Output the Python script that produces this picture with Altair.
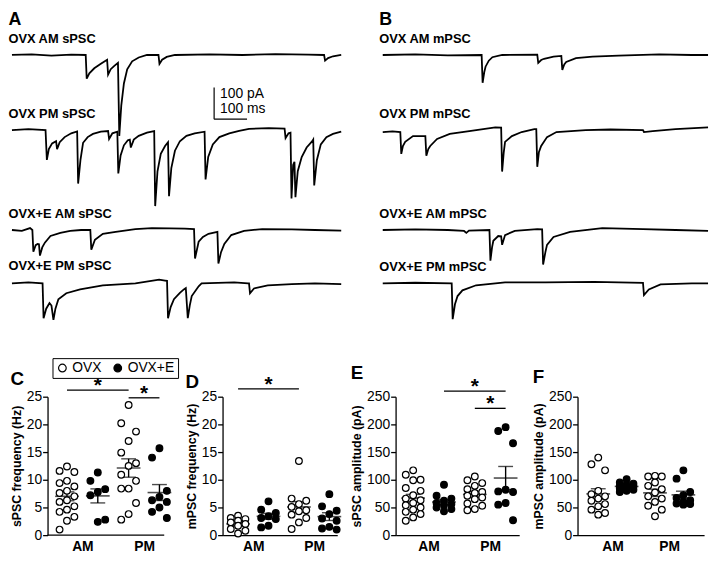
import json
import altair as alt
import pandas as pd

FONT = "Liberation Sans"
PX_PER_PA = 0.32   # vertical trace scale (100 pA = 32 px)
TOP_PA = 20

# ---------------- Panel A: sPSC traces (t in ms, current in pA) ----------------
a1_t = [0, 60, 120, 180, 224, 227, 235, 250, 270, 289, 292, 300, 310, 322, 326, 332, 340, 350, 365, 385,
        410, 445, 448, 456, 470, 495, 600, 700, 800, 900, 948, 951, 960, 975, 1000]
a1_i = [0, 2, -2, 1, 0, -75, -58, -42, -28, -15, -62, -45, -35, -25, -256, -160, -90, -45, -20, -8,
        0, 0, -28, -15, -6, 0, 2, 0, 3, 1, 0, -18, -10, -4, 0]

a2_t = [0, 50, 102, 106, 112, 122, 134, 137, 145, 160, 180, 198, 201, 208, 216, 230, 246, 270, 292, 295,
        305, 320, 323, 330, 340, 352, 358, 361, 370, 385, 410, 432, 435, 442, 452, 465, 474, 477, 484, 495,
        510, 530, 555, 585, 588, 596, 610, 630, 660, 690, 720, 780, 828, 831, 840, 846, 849, 854, 858, 861,
        868, 880, 895, 912, 915, 918, 926, 938, 955, 975, 1000]
a2_i = [0, 3, 0, -94, -60, -42, -35, -60, -38, -22, -10, -4, -169, -95, -40, -22, -12, -5, -3, -28,
        -10, -5, -137, -80, -48, -32, -30, -55, -30, -18, -8, -3, -240, -130, -75, -50, -38, -209, -120, -65,
        -35, -18, -10, -5, -156, -85, -45, -22, -10, -2, 4, 6, 5, -25, -10, -8, -216, -110, -100, -212,
        -130, -85, -55, -35, -30, -175, -95, -45, -22, -12, -5]

a3_t = [0, 30, 55, 62, 65, 72, 78, 82, 85, 92, 100, 117, 147, 177, 210, 238, 241, 252, 276, 315,
        375, 425, 480, 525, 553, 556, 567, 580, 597, 624, 627, 635, 645, 666, 705, 760, 850, 920, 1000]
a3_i = [0, -3, 6, 0, -69, -48, -44, -45, -81, -55, -40, -19, -9, -3, 0, 0, -62, -31, -12, -6,
        3, 6, 5, 4, 3, -90, -37, -22, -12, -6, -106, -70, -44, -16, -3, 3, 2, 0, -2]

a4_t = [0, 50, 93, 96, 104, 114, 120, 126, 132, 141, 165, 207, 276, 375, 447, 465, 471, 474, 482, 492,
        510, 522, 528, 534, 540, 546, 567, 576, 675, 717, 720, 723, 735, 777, 850, 920, 1000]
a4_i = [0, 3, 0, -110, -80, -62, -70, -115, -80, -50, -31, -19, -6, 0, 12, 9, 8, -110, -75, -50,
        -30, -19, -15, -110, -70, -40, -9, 0, 3, 0, 0, -31, -16, -6, -2, 0, -2]

# ---------------- Panel B: mPSC traces ----------------
b1_t = [0, 100, 200, 304, 307, 312, 316, 326, 337, 367, 475, 478, 487, 496, 525, 549, 552, 558, 564, 594,
        645, 725, 850, 950, 1000]
b1_i = [0, 2, -1, 0, -88, -55, -37, -18, -7, 0, 1, -25, -16, -12, -5, -3, -47, -30, -22, -10,
        -5, -2, 2, 0, 0]

b2_t = [0, 30, 54, 57, 62, 69, 93, 131, 134, 140, 146, 167, 206, 266, 346, 364, 367, 372, 376, 397,
        427, 466, 472, 475, 480, 487, 505, 534, 624, 700, 800, 803, 830, 900, 1000]
b2_i = [-6, -4, -6, -75, -50, -37, -19, -19, -81, -60, -50, -28, -12, -3, 9, 8, -131, -70, -37, -19,
        -6, 3, 3, -116, -70, -50, -22, -6, 0, 2, 0, -6, -3, 3, 9]

b3_t = [0, 100, 200, 250, 257, 265, 328, 331, 336, 340, 355, 364, 367, 376, 406, 475, 490, 493, 500, 505,
        525, 576, 675, 800, 900, 1000]
b3_i = [0, 2, 0, -3, -9, -2, 0, -97, -55, -34, -19, -20, -47, -16, -3, 3, 2, -109, -70, -47,
        -22, -6, 6, 3, 0, -3]

b4_t = [0, 100, 212, 215, 222, 230, 245, 287, 376, 500, 650, 800, 803, 818, 854, 950, 1000]
b4_i = [0, 2, 0, -113, -66, -40, -22, -6, 3, 3, 5, 2, -37, -19, -3, 0, 0]

# scale bar (100 pA / 100 ms)
bar_t = [614, 714]
bar_pA = [-103, -203]

# ---------------- Panels C-F: scatter data ----------------
conds = ["AM OVX", "AM OVX+E", "PM OVX", "PM OVX+E"]
groups = ["OVX", "OVX+E"]

c_vals = [
    [12.4, 11.6, 11.4, 9.8, 9.4, 8.8, 8.0, 7.6, 7.0, 6.3, 6.0, 5.2, 4.6, 4.2, 3.3, 2.6, 1.0],
    [11.3, 9.8, 8.3, 7.8, 7.2, 2.8, 2.4],
    [23.5, 20.2, 18.7, 17.0, 14.9, 13.0, 12.5, 10.9, 9.8, 8.4, 8.4, 5.8, 3.8, 2.8],
    [15.7, 14.0, 8.0, 6.9, 6.3, 6.0, 5.0, 4.2, 3.1],
]
d_vals = [
    [3.5, 3.1, 2.9, 2.6, 2.3, 2.0, 1.7, 1.1, 0.8, 0.3],
    [6.1, 4.6, 4.0, 3.4, 3.1, 2.9, 1.7, 1.4],
    [13.4, 6.6, 6.2, 5.6, 5.1, 4.5, 4.3, 3.7, 3.1, 2.3, 1.1],
    [7.4, 5.2, 4.4, 3.8, 3.0, 2.6, 1.5, 1.2, 1.0],
]
e_vals = [
    [117, 109, 100, 99, 85, 80, 72, 66, 63, 58, 54, 50, 46, 42, 38, 32, 26],
    [91, 71, 66, 62, 58, 56, 54, 50, 47, 43],
    [106, 99, 94, 89, 83, 78, 76, 71, 68, 65, 57, 53, 47, 45],
    [195, 188, 166, 82, 79, 78, 58, 55, 27],
]
f_vals = [
    [140, 128, 117, 80, 74, 70, 66, 62, 56, 52, 46, 40, 37],
    [101, 95, 93, 91, 89, 88, 86, 84, 82, 80, 78],
    [107, 106, 106, 95, 89, 83, 77, 70, 66, 60, 53, 46, 34],
    [117, 102, 78, 72, 67, 63, 60, 57, 56, 55],
]
c_sig = [("AM OVX", "PM OVX", 26.2), ("PM OVX", "PM OVX+E", 24.8)]
d_sig = [("AM OVX", "PM OVX", 26.4)]
e_sig = [("AM OVX+E", "PM OVX+E", 260), ("PM OVX", "PM OVX+E", 229)]
f_sig = []


# ---------------- helpers ----------------
def trace(t, cur, width, height, title, scalebar=False):
    df = pd.DataFrame({"t": t, "pA": cur})
    xs = alt.Scale(domain=[0, 1000], nice=False, zero=False)
    ys = alt.Scale(domain=[TOP_PA - height / PX_PER_PA, TOP_PA], nice=False, zero=False)
    layers = [
        alt.Chart(df).mark_line(color="black", strokeWidth=1.8).encode(
            x=alt.X("t:Q", scale=xs, axis=None),
            y=alt.Y("pA:Q", scale=ys, axis=None),
        )
    ]
    if scalebar:
        sb = pd.DataFrame({"t": [bar_t[0], bar_t[0]], "t2": [bar_t[0], bar_t[1]],
                           "y": [bar_pA[0], bar_pA[1]], "y2": [bar_pA[1], bar_pA[1]]})
        layers.append(alt.Chart(sb).mark_rule(color="black", strokeWidth=1.2).encode(
            x=alt.X("t:Q", scale=xs, axis=None), x2="t2:Q",
            y=alt.Y("y:Q", scale=ys, axis=None), y2="y2:Q"))
        lab = pd.DataFrame({"t": [bar_t[0], bar_t[0]], "y": [-125, -172], "txt": ["100 pA", "100 ms"]})
        layers.append(alt.Chart(lab).mark_text(align="left", baseline="middle", dx=6, font=FONT,
                                               fontSize=14, color="black").encode(
            x=alt.X("t:Q", scale=xs, axis=None), y=alt.Y("y:Q", scale=ys, axis=None), text="txt:N"))
    return alt.layer(*layers).properties(width=width, height=height, title=title)


def ttl(text):
    return alt.Title(text, font=FONT, fontSize=13, fontWeight="bold", color="black",
                     anchor="start", offset=3)


def ttl_letter(letter, text):
    return alt.Title(letter, subtitle=text, font=FONT, fontSize=18, fontWeight="bold", color="black",
                     subtitleFont=FONT, subtitleFontSize=13, subtitleFontWeight="bold",
                     subtitleColor="black", subtitlePadding=4, anchor="start", offset=3)


conds_js = json.dumps(conds)
IDX = f"indexof({conds_js}, datum.session + ' ' + datum.group)"


def panel(letter, vals, ymax, ystep, ytitle, xdom, width, height, sig, legend, title_dy, lpad=0):
    rows = []
    for cond, arr in zip(conds, vals):
        s, g = cond.split(" ")
        for v in arr:
            rows.append({"session": s, "group": g, "v": v})
    df = pd.DataFrame(rows)
    # lpad: extra room inside the plot on the left, where the y axis is drawn (axis offset)
    ext = lpad * (xdom[1] - xdom[0]) / width
    xs = alt.Scale(domain=[xdom[0] - ext, xdom[1]], nice=False, zero=False)
    ys = alt.Scale(domain=[0, ymax], nice=False, zero=False)
    xaxis = alt.Axis(values=[0.5, 2.5], labelExpr="datum.value < 1.5 ? 'AM' : 'PM'", ticks=False,
                     grid=False, title=None, domain=(lpad == 0), domainColor="black", domainWidth=1.3,
                     labelFont=FONT, labelFontSize=14, labelFontWeight="bold", labelColor="black",
                     labelPadding=5, labelFlush=False, labelOverlap=False)
    yaxis = alt.Axis(values=list(range(0, ymax + 1, ystep)), tickSize=5, tickColor="black", tickWidth=1.3,
                     domainColor="black", domainWidth=1.3, grid=False, labelFont=FONT, labelFontSize=14,
                     labelColor="black", labelPadding=1, labelFlush=False, title=ytitle, titleFont=FONT,
                     titleFontSize=12.5, titleFontWeight="bold", titleColor="black", titlePadding=3,
                     offset=-lpad)
    if legend:
        leg = alt.Legend(orient="none", legendX=lpad + 5, legendY=-39, direction="horizontal", title=None,
                         strokeColor="black", fillColor="white", padding=3, labelFont=FONT,
                         labelFontSize=14, labelColor="black", symbolSize=60, symbolType="circle",
                         symbolStrokeColor="black", symbolStrokeWidth=1.2, columnPadding=9,
                         labelOffset=3)
    else:
        leg = None
    base = alt.Chart(df).transform_calculate(idx=IDX)
    pts = base.transform_window(
        rk="row_number()", groupby=["session", "group"], sort=[alt.SortField("v", order="descending")]
    ).transform_calculate(
        xp="datum.idx + (datum.rk % 3 == 2 ? -0.24 : (datum.rk % 3 == 0 ? 0.24 : 0))"
    ).mark_point(shape="circle", filled=True, size=46, stroke="black", strokeWidth=1.2, opacity=1).encode(
        x=alt.X("xp:Q", scale=xs, axis=xaxis),
        y=alt.Y("v:Q", scale=ys, axis=yaxis),
        fill=alt.Fill("group:N", scale=alt.Scale(domain=groups, range=["white", "black"]), legend=leg),
    )
    agg = alt.Chart(df).transform_aggregate(
        m="mean(v)", s="stderr(v)", groupby=["session", "group"]
    ).transform_calculate(idx=IDX, lo="datum.m - datum.s", hi="datum.m + datum.s")
    X = alt.X("idx:Q", scale=xs, axis=xaxis)
    mean = agg.mark_tick(orient="horizontal", size=24, thickness=1.6, color="black").encode(
        x=X, y=alt.Y("m:Q", scale=ys, axis=yaxis))
    sem = agg.mark_rule(color="black", strokeWidth=1.4).encode(
        x=X, y=alt.Y("lo:Q", scale=ys, axis=yaxis), y2="hi:Q")
    cap_lo = agg.mark_tick(orient="horizontal", size=15, thickness=1.4, color="black").encode(
        x=X, y=alt.Y("lo:Q", scale=ys, axis=yaxis))
    cap_hi = agg.mark_tick(orient="horizontal", size=15, thickness=1.4, color="black").encode(
        x=X, y=alt.Y("hi:Q", scale=ys, axis=yaxis))
    layers = [sem, cap_lo, cap_hi, mean, pts]
    if lpad:
        # x axis line over the visible data range only
        layers.append(alt.Chart().mark_rule(color="black", strokeWidth=1.3).encode(
            x=alt.datum(xdom[0], scale=xs, axis=xaxis), x2=alt.datum(xdom[1]),
            y=alt.datum(0, scale=ys, axis=yaxis)))
    if sig:
        sdf = pd.DataFrame(sig, columns=["a", "b", "level"])
        sb = alt.Chart(sdf).transform_calculate(
            ia=f"indexof({conds_js}, datum.a)", ib=f"indexof({conds_js}, datum.b)",
            mid="(datum.ia + datum.ib) / 2")
        layers.append(sb.mark_rule(color="black", strokeWidth=1.3).encode(
            x=alt.X("ia:Q", scale=xs, axis=xaxis), x2="ib:Q", y=alt.Y("level:Q", scale=ys, axis=yaxis)))
        layers.append(sb.mark_text(text="*", font=FONT, fontSize=21, fontWeight="bold", color="black",
                                   baseline="alphabetic", dy=2).encode(
            x=alt.X("mid:Q", scale=xs, axis=xaxis), y=alt.Y("level:Q", scale=ys, axis=yaxis)))
    title = alt.Title(letter, font=FONT, fontSize=19, fontWeight="bold", color="black", anchor="start",
                      offset=0, dy=title_dy)
    return alt.layer(*layers).properties(width=width + lpad, height=height, title=title)


# ---------------- assemble ----------------
WA, WB = 333, 329
H = [76, 101, 54, 46]
A1 = trace(a1_t, a1_i, WA, H[0], ttl_letter("A", "OVX AM sPSC"), scalebar=True)
B1 = trace(b1_t, b1_i, WB, H[0], ttl_letter("B", "OVX AM  mPSC"))
A2 = trace(a2_t, a2_i, WA, H[1], ttl("OVX PM sPSC"))
B2 = trace(b2_t, b2_i, WB, H[1], ttl("OVX PM mPSC"))
A3 = trace(a3_t, a3_i, WA, H[2], ttl("OVX+E AM sPSC"))
B3 = trace(b3_t, b3_i, WB, H[2], ttl("OVX+E AM mPSC"))
A4 = trace(a4_t, a4_i, WA, H[3], ttl("OVX+E PM sPSC"))
B4 = trace(b4_t, b4_i, WB, H[3], ttl("OVX+E PM mPSC"))

traces = alt.concat(A1, B1, A2, B2, A3, B3, A4, B4, columns=2,
                    spacing={"row": 0, "column": 42}, bounds="flush")

PH = 140
C = panel("C", c_vals, 25, 5, "sPSC frequency (Hz)", [-0.63, 3.155], 118, PH, c_sig, True, 32, lpad=36)
D = panel("D", d_vals, 25, 5, "mPSC frequency (Hz)", [-0.51, 3.26], 116, PH, d_sig, False, 18)
E = panel("E", e_vals, 250, 50, "sPSC amplitude (pA)", [-0.57, 3.44], 125, PH, e_sig, False, 7)
F = panel("F", f_vals, 250, 50, "mPSC amplitude (pA)", [-0.73, 3.73], 128, PH, f_sig, False, -3)

bottom = alt.hconcat(C, D, E, F, spacing=59, bounds="flush").resolve_scale(fill="independent")

chart = alt.concat(traces, bottom, columns=1, spacing=34).properties(
    padding=0).configure_view(stroke=None)

chart.save("out.html", embed_options={"renderer": "svg", "actions": False})
